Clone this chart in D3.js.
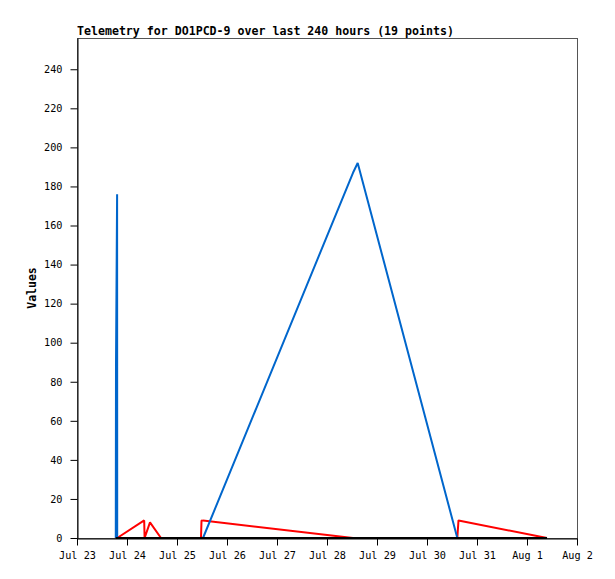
<!DOCTYPE html>
<html>
<head>
<meta charset="utf-8">
<script src="https://cdn.jsdelivr.net/npm/d3@7"></script>
<style>
  html, body { margin: 0; padding: 0; background: #fff; }
  svg { display: block; }
  text { font-family: "DejaVu Sans Mono", "Liberation Mono", monospace; }
</style>
</head>
<body>
<svg id="chart" width="615" height="579"></svg>
<script>
const titleText = "Telemetry for DO1PCD-9 over last 240 hours (19 points)";
const yLabel = "Values";
const xDomain = ["2024-07-23 00:00", "2024-08-02 00:00"];
const yTicks = [0, 20, 40, 60, 80, 100, 120, 140, 160, 180, 200, 220, 240];
const yMax = 256;

const times = [
  "2024-07-23 18:37", "2024-07-23 18:43", "2024-07-23 19:15", "2024-07-23 19:18",
  "2024-07-24 08:15", "2024-07-24 08:27", "2024-07-24 11:02", "2024-07-24 16:19",
  "2024-07-25 11:31", "2024-07-25 11:46", "2024-07-25 12:29", "2024-07-28 12:29",
  "2024-07-28 14:44", "2024-07-30 14:33", "2024-07-30 15:07", "2024-08-01 09:36"
];
const blueValues  = [0, 88, 176, 0, 0, 0, 0, 0, 0, 0, 0, 187, 192, 0, 0, 0];
const redValues   = [0, 0, 0, 0, 9, 0, 8, 0, 0, 9, 8.9, 0, 0, 0, 9, 0];
const blackValues = [0, 0, 0, 0, 0, 0, 0, 0, 0, 0, 0, 0, 0, 0, 0, 0];

const parse = d3.timeParse("%Y-%m-%d %H:%M");
const svg = d3.select("#chart");
const margin = { left: 77, right: 38, top: 38, bottom: 41 };
const W = 615, H = 579;

const x = d3.scaleTime()
  .domain(xDomain.map(parse))
  .range([margin.left, W - margin.right]);
const y = d3.scaleLinear()
  .domain([0, yMax])
  .range([H - margin.bottom, margin.top]);

// plot frame
svg.append("rect")
  .attr("x", margin.left + 0.5).attr("y", margin.top + 0.5)
  .attr("width", W - margin.right - margin.left)
  .attr("height", H - margin.bottom - margin.top)
  .attr("fill", "none").attr("stroke", "#555").attr("stroke-width", 1);

// series
const series = [
  { values: redValues, color: "#ff0000" },
  { values: blueValues, color: "#0066cc" },
  { values: blackValues, color: "#000000" }
];
const line = d3.line()
  .x(d => x(d.t))
  .y(d => y(d.v));
series.forEach(s => {
  const pts = times.map((t, i) => ({ t: parse(t), v: s.values[i] }));
  svg.append("path")
    .datum(pts)
    .attr("d", line)
    .attr("fill", "none")
    .attr("stroke", s.color)
    .attr("stroke-width", 2)
    .attr("stroke-linejoin", "bevel");
});

// axes
const xAxis = d3.axisBottom(x)
  .ticks(d3.timeDay.every(1))
  .tickFormat(d3.timeFormat("%b %-d"))
  .tickSizeOuter(0)
  .tickSizeInner(7)
  .tickPadding(6);
const gx = svg.append("g")
  .attr("transform", `translate(0,${H - margin.bottom + 0.5})`)
  .call(xAxis);
gx.selectAll("text").attr("font-size", "10.2px").attr("fill", "#000")
  .attr("font-family", "DejaVu Sans Mono, monospace");

const yAxis = d3.axisLeft(y)
  .tickValues(yTicks)
  .tickSizeOuter(0)
  .tickSizeInner(7)
  .tickPadding(8);
const gy = svg.append("g")
  .attr("transform", `translate(${margin.left + 0.5},0)`)
  .call(yAxis);
gy.selectAll("text").attr("font-size", "10.2px").attr("fill", "#000")
  .attr("font-family", "DejaVu Sans Mono, monospace");

[gx, gy].forEach(g => {
  g.select(".domain").attr("stroke", "#000");
  g.selectAll(".tick line").attr("stroke", "#000");
});

// title
svg.append("text")
  .attr("x", margin.left)
  .attr("y", 35)
  .attr("font-size", "11.6px")
  .attr("font-weight", "bold")
  .attr("fill", "#000")
  .text(titleText);

// y label
svg.append("text")
  .attr("transform", `translate(36,${(margin.top + H - margin.bottom) / 2}) rotate(-90)`)
  .attr("text-anchor", "middle")
  .attr("font-size", "11.5px")
  .attr("font-weight", "bold")
  .attr("fill", "#000")
  .text(yLabel);
</script>
</body>
</html>
